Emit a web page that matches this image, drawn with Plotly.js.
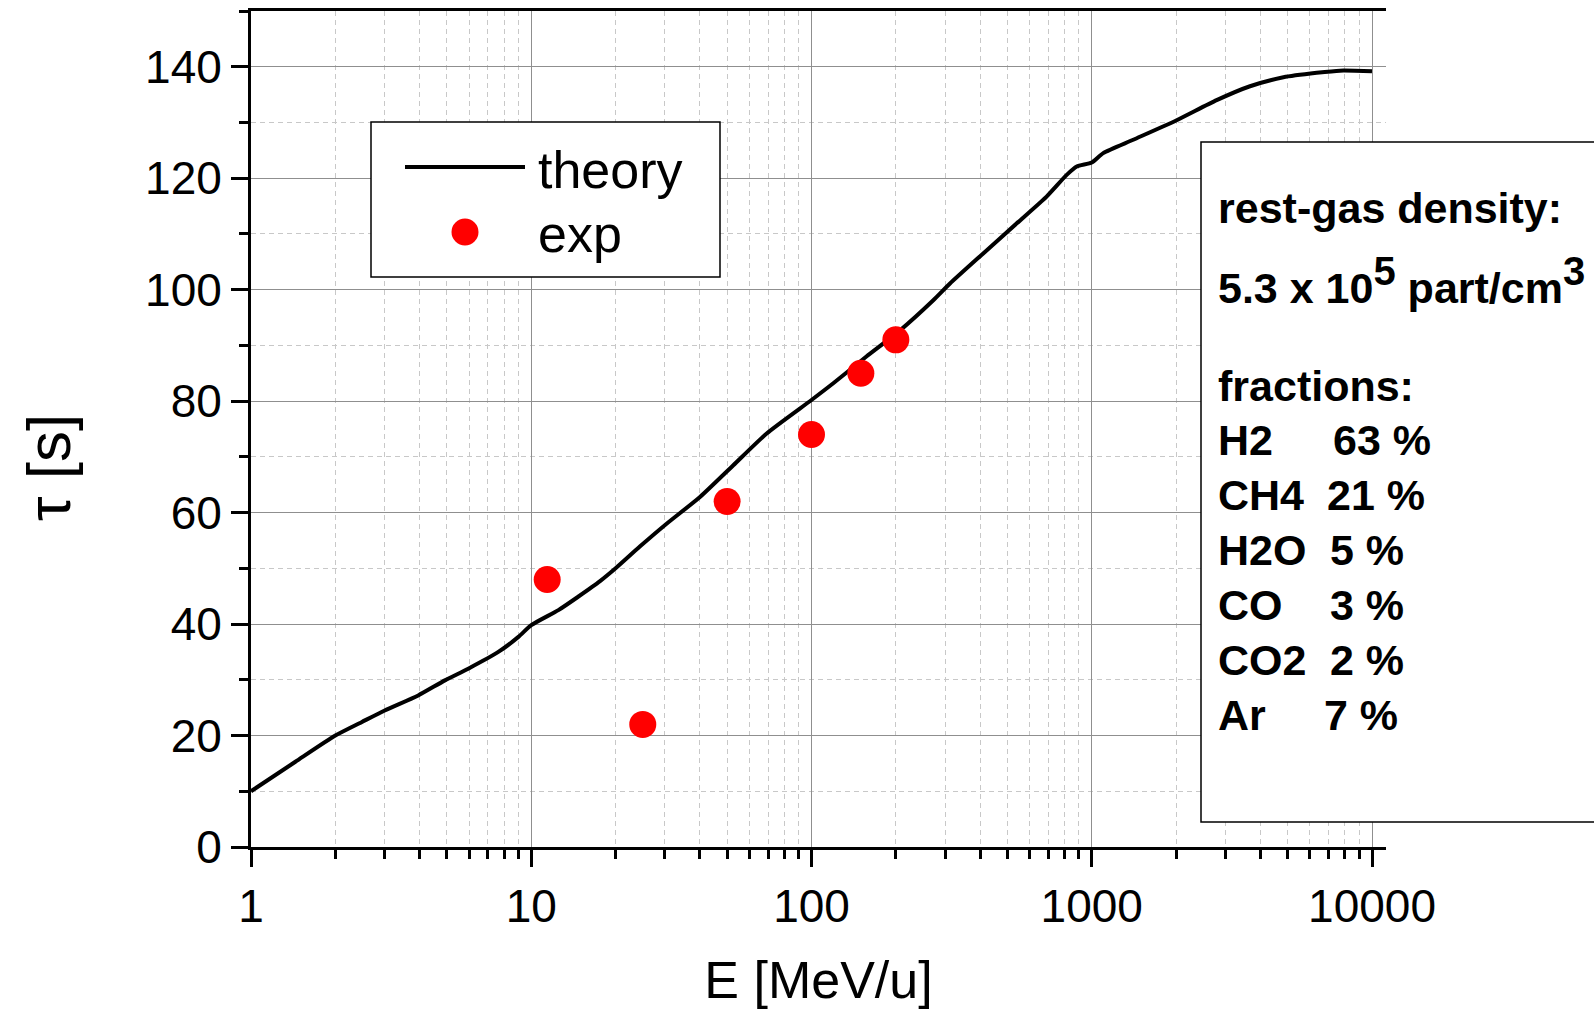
<!DOCTYPE html>
<html>
<head>
<meta charset="utf-8">
<script src="https://cdn.plot.ly/plotly-3.0.1.min.js"></script>
<style>html,body{margin:0;padding:0;background:#fff;}#chart{width:1594px;height:1009px;}</style>
</head>
<body>
<div id="chart"></div>
<script>
// ---- data ----
const theoryE = [1, 1.44, 2, 2.48, 3, 3.95, 4.92, 5.96, 7.63, 9.0, 10, 12.5, 14.7, 17.6, 20, 24.4, 30.4, 40, 52.6, 69.2, 100, 119.6, 157, 207, 272, 312, 410, 540, 690, 814, 884, 1000, 1099, 1406, 2009, 2790, 3670, 4830, 6350, 7690, 10000];
const theoryTau = [10, 15.3, 20, 22.4, 24.5, 27.2, 29.9, 32.0, 35.0, 37.7, 39.8, 42.5, 44.9, 47.7, 50.0, 53.9, 58.0, 62.8, 68.5, 74.2, 80.2, 83.2, 88.0, 92.7, 98.1, 101.1, 106.5, 111.9, 116.7, 120.6, 122.1, 122.8, 124.5, 126.9, 130.4, 134.0, 136.5, 138.1, 138.9, 139.3, 139.2];
const expE = [11.4, 25, 50, 100, 150, 200];
const expTau = [48, 22, 62, 74, 85, 91];
const gasNames = ["H2", "CH4", "H2O", "CO", "CO2", "Ar"];
const gasFractions = [63, 21, 5, 3, 2, 7];
const xTickVals = [1, 10, 100, 1000, 10000];
const xTickText = ["1", "10", "100", "1000", "10000"];

// ---- layout helpers (pixel -> paper) ----
const PL = 251, PR = 1386, PT = 11, PB = 847;
const W = PR - PL, H = PB - PT;
const px = p => (p - PL) / W;
const py = p => (PB - p) / H;
const FONT = 'Liberation Sans, Arial, sans-serif';

const traces = [
  {x: theoryE, y: theoryTau, type: 'scatter', mode: 'lines', name: 'theory',
   line: {color: '#000', width: 4, shape: 'spline', smoothing: 0.6}, showlegend: false},
  {x: expE, y: expTau, type: 'scatter', mode: 'markers', name: 'exp',
   marker: {color: '#ff0000', size: 27}, showlegend: false}
];

const annotations = [];
const ann = (text, x, y, size, opts) => Object.assign({
  text: text, xref: 'paper', yref: 'paper', x: px(x), y: py(y),
  xanchor: 'left', yanchor: 'middle', showarrow: false,
  font: {family: FONT, size: size, color: '#000'}
}, opts || {});

// y-axis title
annotations.push(ann('τ [s]', 48, 468, 62, {xanchor: 'center', textangle: -90}));
// legend texts
annotations.push(ann('theory', 536, 170, 52));
annotations.push(ann('exp', 536, 234, 52));
// info box texts
annotations.push(ann('<b>rest-gas density:</b>', 1216, 208, 43));
annotations.push(ann('<b>5.3 x 10<sup><span style="font-size:40px">5</span></sup> part/cm<sup><span style="font-size:40px">3</span></sup></b>', 1216, 280, 43));
annotations.push(ann('<b>fractions:</b>', 1216, 386, 43));
const valueX = [1331, 1325, 1328, 1328, 1328, 1322];
for (let i = 0; i < gasNames.length; i++) {
  const yy = 440 + i * 54.9;
  annotations.push(ann('<b>' + gasNames[i] + '</b>', 1216, yy, 43));
  annotations.push(ann('<b>' + gasFractions[i] + ' %</b>', valueX[i], yy, 43));
}

const shapes = [
  // legend box
  {type: 'rect', xref: 'paper', yref: 'paper', x0: px(371), x1: px(720), y0: py(122), y1: py(277),
   fillcolor: '#fff', line: {color: '#000', width: 1.5}, layer: 'above'},
  {type: 'line', xref: 'paper', yref: 'paper', x0: px(405), x1: px(525), y0: py(167), y1: py(167),
   line: {color: '#000', width: 4}, layer: 'above'},
  {type: 'circle', xref: 'paper', yref: 'paper', xsizemode: 'pixel', ysizemode: 'pixel',
   xanchor: px(465), yanchor: py(232), x0: -13.5, x1: 13.5, y0: -13.5, y1: 13.5,
   fillcolor: '#ff0000', line: {color: '#ff0000', width: 0}, layer: 'above'},
  // info box
  {type: 'rect', xref: 'paper', yref: 'paper', x0: px(1201), x1: px(1640), y0: py(142), y1: py(822),
   fillcolor: '#fff', line: {color: '#000', width: 1.5}, layer: 'above'}
];

const layout = {
  width: 1594, height: 1009,
  margin: {l: PL, r: 1594 - PR, t: PT, b: 1009 - PB, pad: 0},
  paper_bgcolor: '#fff', plot_bgcolor: '#fff',
  showlegend: false,
  font: {family: FONT, color: '#000'},
  xaxis: {
    type: 'log', range: [0, W / 280.25], automargin: false,
    tickvals: xTickVals, ticktext: xTickText,
    ticks: 'outside', ticklen: 17, tickwidth: 3, tickcolor: '#000',
    showline: true, linewidth: 3, linecolor: '#000', mirror: true,
    showgrid: true, gridcolor: '#8f8f8f', gridwidth: 1,
    zeroline: false,
    tickfont: {family: FONT, size: 46, color: '#000'},
    minor: {dtick: 'D1', ticks: 'outside', ticklen: 9, tickwidth: 3, tickcolor: '#000',
            showgrid: true, gridcolor: '#c8c8c8', gridwidth: 1, griddash: '5px,4px'},
    title: {text: 'E [MeV/u]', font: {family: FONT, size: 52, color: '#000'}, standoff: 38}
  },
  yaxis: {
    range: [0, 150], automargin: false,
    tick0: 0, dtick: 20,
    ticks: 'outside', ticklen: 17, tickwidth: 3, tickcolor: '#000',
    showline: true, linewidth: 3, linecolor: '#000', mirror: false,
    showgrid: true, gridcolor: '#8f8f8f', gridwidth: 1,
    zeroline: false,
    tickfont: {family: FONT, size: 46, color: '#000'},
    minor: {dtick: 10, tick0: 0, ticks: 'outside', ticklen: 9, tickwidth: 3, tickcolor: '#000',
            showgrid: true, gridcolor: '#c8c8c8', gridwidth: 1, griddash: '5px,4px'}
  },
  annotations: annotations,
  shapes: shapes
};

Plotly.newPlot('chart', traces, layout, {staticPlot: true, displayModeBar: false});
</script>
</body>
</html>
